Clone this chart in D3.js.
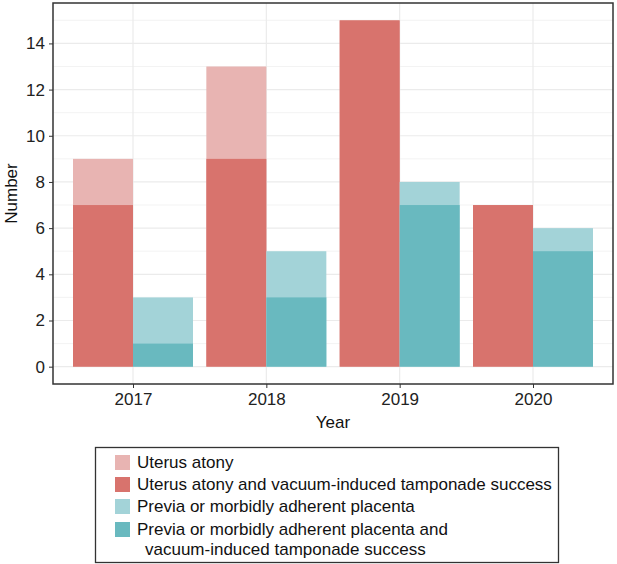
<!DOCTYPE html>
<html><head><meta charset="utf-8">
<script src="https://cdn.jsdelivr.net/npm/d3@7"></script>
<style>body{margin:0;background:#fff}svg{display:block}text{font-family:"Liberation Sans",Arial,Helvetica,sans-serif}</style>
</head><body>
<script>
const years = ["2017","2018","2019","2020"];
const uterusTotal = [9, 13, 15, 7];
const uterusSuccess = [7, 9, 15, 7];
const previaTotal = [3, 5, 8, 6];
const previaSuccess = [1, 3, 7, 5];
const yTicks = [0, 2, 4, 6, 8, 10, 12, 14];
const legendLabels = [
  ["Uterus atony"],
  ["Uterus atony and vacuum-induced tamponade success"],
  ["Previa or morbidly adherent placenta"],
  ["Previa or morbidly adherent placenta and", "vacuum-induced tamponade success"]
];
const colors = ["#E8B4B2", "#D8736D", "#A3D3D8", "#69B9BF"];

const W = 617, H = 564;
const P = {l: 53, r: 613, t: 3, b: 384};
const svg = d3.select("body").append("svg").attr("width", W).attr("height", H);

const y = d3.scaleLinear().domain([-0.75, 15.75]).range([P.b, P.t]);
const xc = d3.scalePoint().domain(years).range([P.l + 80, P.r - 80]);
const step = 133.33;
const bw = step * 0.45;
const FS = 17;

// grid
const g = svg.append("g");
d3.range(1, 16, 2).forEach(v => {
  g.append("line").attr("x1", P.l).attr("x2", P.r).attr("y1", y(v)).attr("y2", y(v))
    .attr("stroke", "#F0F0F0").attr("stroke-width", 0.8);
});
yTicks.forEach(v => {
  g.append("line").attr("x1", P.l).attr("x2", P.r).attr("y1", y(v)).attr("y2", y(v))
    .attr("stroke", "#EBEBEB").attr("stroke-width", 1.2);
});
years.forEach(yr => {
  g.append("line").attr("x1", xc(yr)).attr("x2", xc(yr)).attr("y1", P.t).attr("y2", P.b)
    .attr("stroke", "#EBEBEB").attr("stroke-width", 1.2);
});

function bars(vals, offset, color) {
  svg.append("g").selectAll("rect").data(years).join("rect")
    .attr("x", (d) => xc(d) + offset)
    .attr("width", bw)
    .attr("y", (d, i) => y(vals[i]))
    .attr("height", (d, i) => y(0) - y(vals[i]))
    .attr("fill", color);
}
bars(uterusTotal, -bw, colors[0]);
bars(uterusSuccess, -bw, colors[1]);
bars(previaTotal, 0, colors[2]);
bars(previaSuccess, 0, colors[3]);

// panel border
svg.append("rect").attr("x", P.l).attr("y", P.t).attr("width", P.r - P.l).attr("height", P.b - P.t)
  .attr("fill", "none").attr("stroke", "#333").attr("stroke-width", 1.5);

// axes
const ya = svg.append("g").attr("transform", `translate(${P.l},0)`)
  .call(d3.axisLeft(y).tickValues(yTicks).tickSize(4).tickPadding(4));
ya.select(".domain").remove();
ya.selectAll("line").attr("stroke", "#333");
ya.selectAll("text").attr("font-size", FS).attr("fill", "#222").attr("font-family", "Liberation Sans, Arial, sans-serif");

const xa = svg.append("g").attr("transform", `translate(0,${P.b})`)
  .call(d3.axisBottom(xc).tickSize(4).tickPadding(5));
xa.select(".domain").remove();
xa.selectAll("line").attr("stroke", "#333");
xa.selectAll("text").attr("font-size", FS).attr("fill", "#222").attr("font-family", "Liberation Sans, Arial, sans-serif");

svg.append("text").attr("x", (P.l + P.r) / 2).attr("y", 428).attr("text-anchor", "middle")
  .attr("font-size", FS).attr("fill", "#111").text("Year");
svg.append("text").attr("transform", `translate(17,${(P.t + P.b) / 2}) rotate(-90)`)
  .attr("text-anchor", "middle").attr("font-size", FS).attr("fill", "#111").text("Number");

// legend
svg.append("rect").attr("x", 95.5).attr("y", 447.5).attr("width", 463).attr("height", 115)
  .attr("fill", "#fff").attr("stroke", "#333").attr("stroke-width", 1.3);
const rowY = [455, 477, 499, 522];
legendLabels.forEach((lines, i) => {
  svg.append("rect").attr("x", 115).attr("y", rowY[i]).attr("width", 15).attr("height", 15).attr("fill", colors[i]);
  lines.forEach((t, j) => {
    svg.append("text").attr("x", j === 0 ? 137 : 145).attr("y", rowY[i] + 13 + j * 20)
      .attr("font-size", FS).attr("fill", "#111").text(t);
  });
});
</script>
</body></html>
